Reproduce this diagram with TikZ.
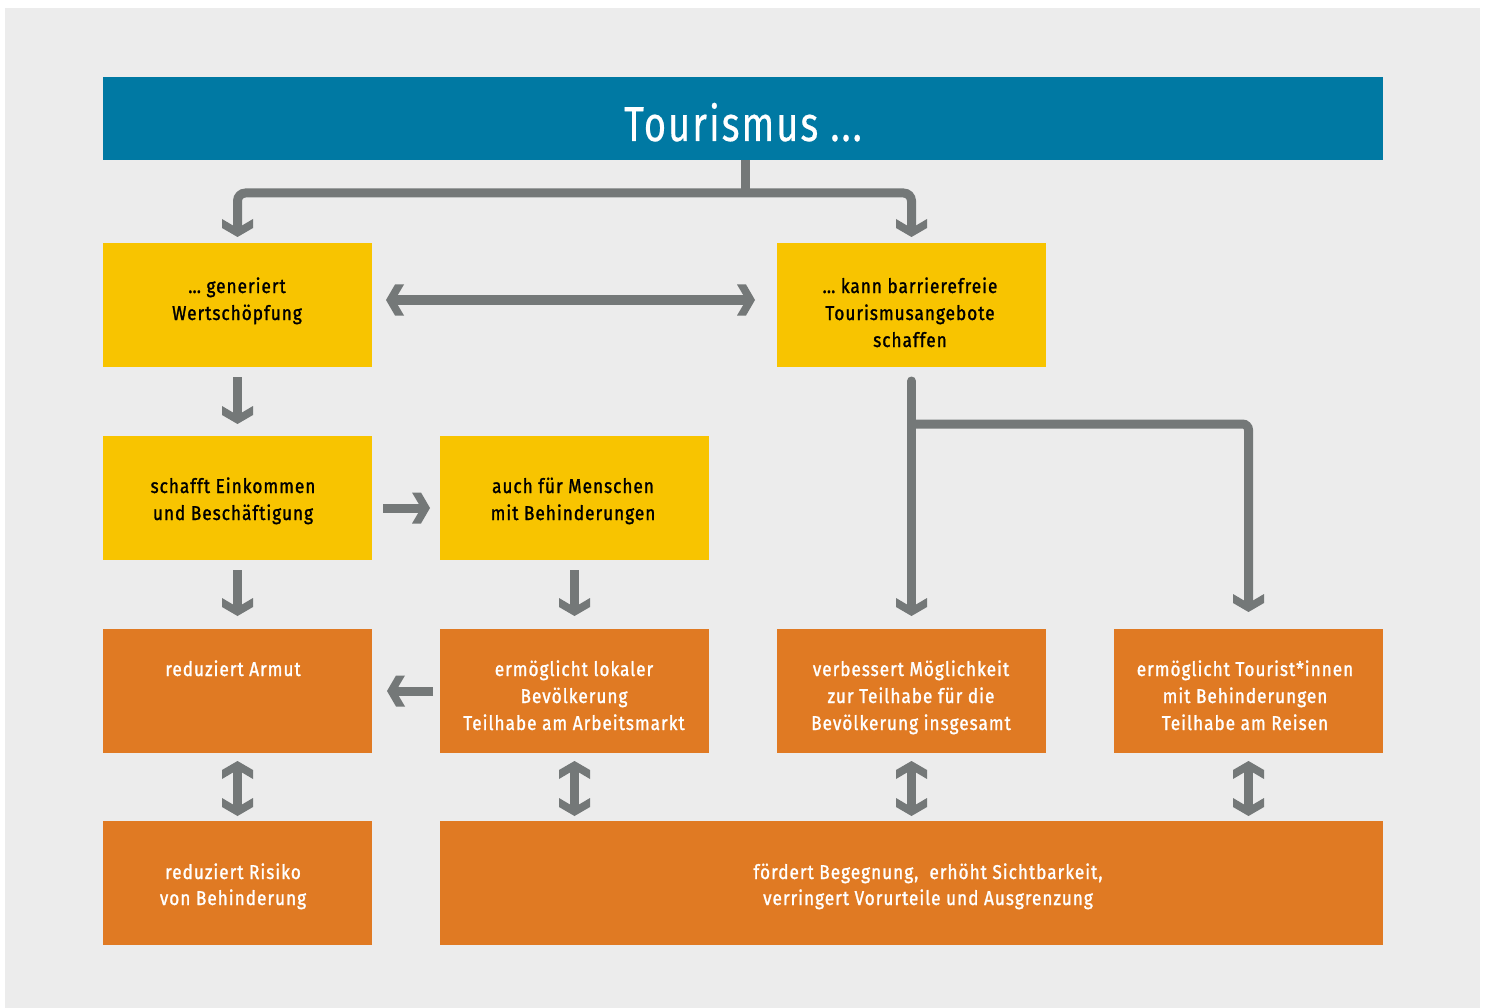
\documentclass[tikz,border=0pt]{standalone}
\usepackage{fontspec}
\newfontfamily\boxfont{Fira Sans}[FakeStretch=0.86, FakeBold=1.3, LetterSpace=5]
\newfontfamily\headfont{Fira Sans}[FakeStretch=0.78, FakeBold=0.4, LetterSpace=4]

\definecolor{bgc}{HTML}{ECECEC}
\definecolor{cblue}{HTML}{0079A3}
\definecolor{cyellow}{HTML}{F8C400}
\definecolor{corange}{HTML}{E07A23}
\definecolor{cgray}{HTML}{747878}

% chevron arrow tip with flat back edges
\pgfdeclarearrow{
  name = Chev,
  setup code = {
    \pgfarrowssettipend{0pt}
    \pgfarrowssetbackend{-18pt}
    \pgfarrowssetlineend{-10pt}
    \pgfarrowsupperhullpoint{0pt}{0pt}
    \pgfarrowsupperhullpoint{-9pt}{15.5pt}
    \pgfarrowsupperhullpoint{-18pt}{15.5pt}
  },
  drawing code = {
    \pgfpathmoveto{\pgfqpoint{0pt}{0pt}}
    \pgfpathlineto{\pgfqpoint{-9pt}{15.5pt}}
    \pgfpathlineto{\pgfqpoint{-18pt}{15.5pt}}
    \pgfpathlineto{\pgfqpoint{-11.5pt}{4.5pt}}
    \pgfpathlineto{\pgfqpoint{-11.5pt}{-4.5pt}}
    \pgfpathlineto{\pgfqpoint{-18pt}{-15.5pt}}
    \pgfpathlineto{\pgfqpoint{-9pt}{-15.5pt}}
    \pgfpathclose
    \pgfusepathqfill
  }
}

\tikzset{
  box/.style={anchor=north west, minimum width=269pt, minimum height=124pt,
    inner sep=0pt, outer sep=0pt},
  ybox/.style={box, fill=cyellow},
  obox/.style={box, fill=corange},
  % text nodes are placed by the baseline of their last line
  txt/.style={anchor=base, align=center, inner sep=0pt,
    font=\boxfont\fontsize{20}{27}\selectfont},
  ytxt/.style={txt, text=black},
  otxt/.style={txt, text=white},
  conn/.style={draw=cgray, line width=9pt},
}

\begin{document}
\begin{tikzpicture}[x=1pt, y=-1pt]
  % page and panel
  \fill[white] (0,0) rectangle (1488,1008);
  \fill[bgc] (5,8) rectangle (1480,1008);
  \useasboundingbox (0,0) rectangle (1488,1008);

  % header
  \node[anchor=north west, minimum width=1280pt, minimum height=83pt,
    inner sep=0pt, fill=cblue] (hdr) at (103,77) {};
  \node[anchor=base, inner sep=0pt, text=white,
    font=\headfont\fontsize{49}{52}\selectfont] (htxt) at (743,141) {Tourismus ...};

  % boxes
  \node[ybox] (b1) at (103,243) {};
  \node[ybox] (b2) at (777,243) {};
  \node[ybox] (b3) at (103,436) {};
  \node[ybox] (b4) at (440,436) {};
  \node[obox] (o1) at (103,629) {};
  \node[obox] (o2) at (440,629) {};
  \node[obox] (o3) at (777,629) {};
  \node[obox] (o4) at (1114,629) {};
  \node[obox] (r1) at (103,821) {};
  \node[obox, minimum width=943pt] (r2) at (440,821) {};

  % box texts
  \node[ytxt] (t1) at (237,320) {… generiert\\Wertschöpfung};
  \node[ytxt] (t2) at (910,347) {… kann barrierefreie\\Tourismusangebote\\schaffen};
  \node[ytxt] (t3) at (233,520) {schafft Einkommen\\und Beschäftigung};
  \node[ytxt] (t4) at (573,520) {auch für Menschen\\mit Behinderungen};
  \node[otxt] (t5) at (233,676) {reduziert Armut};
  \node[otxt] (t6) at (574,730) {ermöglicht lokaler\\Bevölkerung\\Teilhabe am Arbeitsmarkt};
  \node[otxt] (t7) at (911,730) {verbessert Möglichkeit\\zur Teilhabe für die\\Bevölkerung insgesamt};
  \node[otxt] (t8) at (1245,730) {ermöglicht Tourist*innen\\mit Behinderungen\\Teilhabe am Reisen};
  \node[otxt, font=\boxfont\fontsize{20}{26}\selectfont] (t9) at (233,905) {reduziert Risiko\\von Behinderung};
  \node[otxt, font=\boxfont\fontsize{20}{26}\selectfont] (t10) at (928,905) {fördert Begegnung,\ \ erhöht Sichtbarkeit,\\verringert Vorurteile und Ausgrenzung};

  % connectors
  \coordinate (split) at (745,193);
  \draw[conn] (hdr.south -| split) -- (split);
  \draw[conn, Chev-Chev, rounded corners=8pt, shorten <=6pt, shorten >=6pt]
    (b1.north) |- (split) -| (b2.north);
  \draw[conn, Chev-Chev, shorten <=14pt, shorten >=22pt]
    ([yshift=5pt]b1.east) -- ([yshift=5pt]b2.west);
  \draw[conn, -Chev, shorten <=10pt, shorten >=12pt] (b1.south) -- (b3.north);
  \draw[conn, -Chev, shorten <=11pt, shorten >=10pt]
    ([yshift=-10pt]b3.east) -- ([yshift=-10pt]b4.west);
  \draw[conn, -Chev, shorten <=10pt, shorten >=13pt] (b3.south) -- (o1.north);
  \draw[conn, -Chev, shorten <=10pt, shorten >=13pt] (b4.south) -- (o2.north);
  \draw[conn, -Chev, line cap=round, shorten <=14pt, shorten >=13pt] (b2.south) -- (o3.north);
  \coordinate (branch) at (911.5,424);
  \draw[conn, -Chev, rounded corners=6pt, shorten >=17pt] (branch) -| (o4.north);
  \draw[conn, -Chev, shorten <=7pt, shorten >=15pt] (o2.west) -- (o1.east);
  \draw[conn, Chev-Chev, shorten <=8pt, shorten >=5pt] (o1.south) -- (r1.north);
  \draw[conn, Chev-Chev, shorten <=8pt, shorten >=5pt] (o2.south) -- (o2.south |- r2.north);
  \draw[conn, Chev-Chev, shorten <=8pt, shorten >=5pt] (o3.south) -- (o3.south |- r2.north);
  \draw[conn, Chev-Chev, shorten <=8pt, shorten >=5pt] (o4.south) -- (o4.south |- r2.north);
\end{tikzpicture}
\end{document}
